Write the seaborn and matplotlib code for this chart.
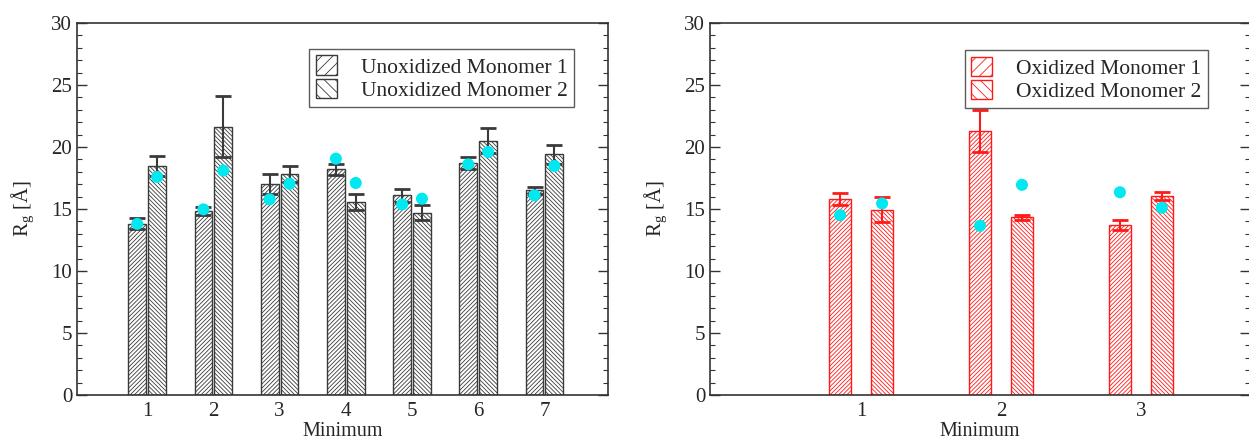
import pandas as pd
import seaborn as sns
import matplotlib.pyplot as plt
from matplotlib.patches import Patch
from matplotlib.ticker import MultipleLocator

# Unoxidized system, minima 1-7 (bar heights, error bars, cyan reference points)
unox_min = [1, 2, 3, 4, 5, 6, 7]
unox_m1 = [13.8, 14.85, 17.0, 18.2, 16.1, 18.7, 16.5]
unox_m1_err = [0.45, 0.33, 0.8, 0.43, 0.5, 0.47, 0.27]
unox_m2 = [18.45, 21.65, 17.8, 15.55, 14.7, 20.5, 19.4]
unox_m2_err = [0.8, 2.45, 0.65, 0.65, 0.62, 1.0, 0.75]
unox_m1_dot = [13.8, 14.97, 15.78, 19.06, 15.37, 18.6, 16.1]
unox_m2_dot = [17.58, 18.1, 17.04, 17.1, 15.83, 19.6, 18.47]

# Oxidized system, minima 1-3
ox_min = [1, 2, 3]
ox_m1 = [15.8, 21.3, 13.7]
ox_m1_err = [0.45, 1.7, 0.38]
ox_m2 = [14.95, 14.35, 16.05]
ox_m2_err = [1.0, 0.2, 0.35]
ox_m1_dot = [14.5, 13.65, 16.35]
ox_m2_dot = [15.45, 16.95, 15.1]

unox_names = ["Unoxidized Monomer 1", "Unoxidized Monomer 2"]
ox_names = ["Oxidized Monomer 1", "Oxidized Monomer 2"]

sns.set_style("ticks")
plt.rcParams["font.family"] = ["Liberation Serif", "DejaVu Serif"]
plt.rcParams["mathtext.fontset"] = "custom"
plt.rcParams["mathtext.rm"] = "Liberation Serif"
plt.rcParams["mathtext.it"] = "Liberation Serif:italic"
plt.rcParams["hatch.linewidth"] = 0.6

BAR_HATCH = ["/" * 8, "\\" * 8]
LEG_HATCH = ["///", "\\\\\\"]
CYAN = "#00e8f0"


def panel(ax, minima, m1, e1, m2, e2, d1, d2, names, color, gap, xlim, leg_anchor):
    df = pd.DataFrame({
        "Minimum": minima + minima,
        "Rg": m1 + m2,
        "Monomer": [names[0]] * len(minima) + [names[1]] * len(minima),
    })
    sns.barplot(data=df, x="Minimum", y="Rg", hue="Monomer", native_scale=True,
                width=0.6, gap=gap, errorbar=None, legend=False,
                palette={names[0]: "white", names[1]: "white"},
                edgecolor=color, linewidth=1.0, ax=ax)

    for cont, h, err, dots in zip(ax.containers, BAR_HATCH, [e1, e2], [d1, d2]):
        xs = []
        for bar in cont:
            bar.set_hatch(h)
            xs.append(bar.get_x() + bar.get_width() / 2)
        heights = [b.get_height() for b in cont]
        ax.errorbar(xs, heights, yerr=err, fmt="none", ecolor=color,
                    elinewidth=1.5, capsize=6, capthick=2, zorder=3)
        sns.scatterplot(x=xs, y=dots, color=CYAN, s=75, edgecolor="none",
                        zorder=4, ax=ax)

    ax.set_xlim(*xlim)
    ax.set_ylim(0, 30)
    ax.set_xticks(minima)
    ax.set_xticklabels([str(m) for m in minima])
    ax.yaxis.set_major_locator(MultipleLocator(5))
    ax.yaxis.set_minor_locator(MultipleLocator(1))
    ax.tick_params(axis="y", which="both", direction="in", left=True, right=True,
                   labelsize=15, color="#333333")
    ax.tick_params(axis="y", which="major", length=7, width=1.0)
    ax.tick_params(axis="x", length=0, labelsize=15, pad=5)
    ax.tick_params(axis="y", which="minor", length=3.5, width=0.8)
    for s in ax.spines.values():
        s.set_visible(True)
        s.set_color("#333333")
        s.set_linewidth(1.2)
    ax.set_xlabel("Minimum", fontsize=14.5, labelpad=1)
    ax.set_ylabel(r"R$_{\rm g}$ [Å]", fontsize=15, labelpad=11)

    handles = [Patch(facecolor="white", edgecolor=color, hatch=h, label=n)
               for h, n in zip(LEG_HATCH, names)]
    leg = ax.legend(handles=handles, loc="upper right", bbox_to_anchor=leg_anchor,
                    borderaxespad=0, frameon=True, fancybox=False, edgecolor="#333333",
                    fontsize=15.5, handlelength=1.0, handleheight=1.0,
                    handletextpad=1.1, labelspacing=0.05, borderpad=0.3)
    leg.get_frame().set_linewidth(1.0)


fig = plt.figure(figsize=(12.49, 4.40), dpi=100)
ax1 = fig.add_axes([77 / 1249, 1 - 395 / 440, 531 / 1249, 372 / 440])
ax2 = fig.add_axes([710 / 1249, 1 - 395 / 440, 540 / 1249, 372 / 440])

panel(ax1, unox_min, unox_m1, unox_m1_err, unox_m2, unox_m2_err,
      unox_m1_dot, unox_m2_dot, unox_names, "#3a3a3a", 0.1, (-0.06, 7.96), (0.936, 0.93))
panel(ax2, ox_min, ox_m1, ox_m1_err, ox_m2, ox_m2_err,
      ox_m1_dot, ox_m2_dot, ox_names, "#ff1a1a", 0.47, (-0.08, 3.78), (0.922, 0.927))

fig.savefig("out.png", dpi=100)
